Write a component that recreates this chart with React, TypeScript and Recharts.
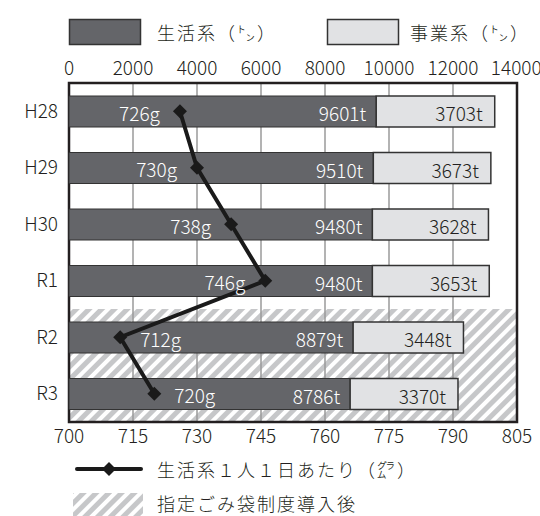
// @ts-nocheck
import React from 'react';
import { ComposedChart, Bar, Line, XAxis, YAxis, CartesianGrid, ReferenceArea, LabelList } from 'recharts';

const YEARS = ['H28', 'H29', 'H30', 'R1', 'R2', 'R3'];
const LIFE_TONS = [9601, 9510, 9480, 9480, 8879, 8786];
const BUSINESS_TONS = [3703, 3673, 3628, 3653, 3448, 3370];
const GRAMS_PER_DAY = [726, 730, 738, 746, 712, 720];
const TON_TICKS = [0, 2000, 4000, 6000, 8000, 10000, 12000, 14000];
const GRAM_TICKS = [700, 715, 730, 745, 760, 775, 790, 805];
// years after the designated garbage bag system started
const BAG_YEARS = ['R2', 'R3'];

const DARK = '#646569';
const LIGHT = '#e1e2e4';
const INK = '#231f20';
const HATCH = '#c6c7c9';
const FONT = '"Noto Sans CJK JP", "Noto Sans", sans-serif';
const WEIGHT = 300;

const chartData = YEARS.map((year, i) => ({
  year,
  life: LIFE_TONS[i],
  business: BUSINESS_TONS[i],
  grams: GRAMS_PER_DAY[i],
}));

function TonLabel({ x, y, width, height, value, fill, pad }) {
  if (!value) return null;
  return (
    <text x={x + width - pad} y={y + height / 2 + 1} textAnchor="end" dominantBaseline="central" fill={fill} fontSize={19} fontWeight={WEIGHT} fontFamily={FONT}>
      {`${value}t`}
    </text>
  );
}

function GramLabel({ x, y, value, index }) {
  const after = BAG_YEARS.includes(YEARS[index]);
  return (
    <text x={after ? x + 20 : x - 20} y={y + 1} textAnchor={after ? 'start' : 'end'} dominantBaseline="central" fill="#fff" fontSize={19} fontWeight={WEIGHT} fontFamily={FONT}>
      {`${value}g`}
    </text>
  );
}

function Diamond({ cx, cy }) {
  if (cx == null || cy == null) return null;
  const r = 7;
  return <path d={`M${cx},${cy - r}L${cx + r},${cy}L${cx},${cy + r}L${cx - r},${cy}Z`} fill="#1a1a1a" />;
}

function Legends() {
  const txt = { fontSize: 18, fontWeight: WEIGHT, fontFamily: FONT, fill: INK, dominantBaseline: 'central', letterSpacing: 2 };
  return (
    <svg width={540} height={516} style={{ position: 'absolute', left: 0, top: 0, pointerEvents: 'none' }}>
      <defs>
        <pattern id="hatchLegend" patternUnits="userSpaceOnUse" width={9} height={9} patternTransform="rotate(45)">
          <rect x={0} y={0} width={5} height={9} fill={HATCH} />
        </pattern>
      </defs>
      <rect x={69.5} y={19.5} width={71} height={25} fill={DARK} stroke="#333" strokeWidth={1.5} />
      <text x={157} y={32} {...txt}>生活系（㌧）</text>
      <rect x={327.5} y={19.5} width={71} height={25} fill={LIGHT} stroke="#333" strokeWidth={1.5} />
      <text x={410} y={32} {...txt}>事業系（㌧）</text>

      <line x1={77} y1={469} x2={141} y2={469} stroke="#1a1a1a" strokeWidth={4} strokeLinecap="round" />
      <Diamond cx={109} cy={469} />
      <text x={157} y={469} {...txt}>生活系１人１日あたり（㌘）</text>
      <rect x={73} y={493} width={70} height={23} fill="url(#hatchLegend)" />
      <text x={157} y={503} {...txt}>指定ごみ袋制度導入後</text>
    </svg>
  );
}

export default function App() {
  return (
    <div style={{ position: 'absolute', left: 0, top: 0, width: 540, height: 516, background: '#fff' }}>
      <ComposedChart
        width={540}
        height={516}
        data={chartData}
        layout="vertical"
        margin={{ top: 53, right: 23, bottom: 64, left: 0 }}
      >
        <defs>
          <pattern id="hatchPlot" patternUnits="userSpaceOnUse" width={9} height={9} patternTransform="rotate(45)">
            <rect x={0} y={0} width={5} height={9} fill={HATCH} />
          </pattern>
        </defs>
        <ReferenceArea xAxisId="top" x1={0} x2={14000} y1={BAG_YEARS[0]} y2={BAG_YEARS[BAG_YEARS.length - 1]} fill="url(#hatchPlot)" fillOpacity={1} stroke="none" zIndex={-150} />
        <CartesianGrid xAxisId="top" horizontal={false} stroke="#9a9a9a" strokeWidth={1.5} />
        <XAxis
          xAxisId="top"
          orientation="top"
          type="number"
          domain={[0, 14000]}
          ticks={TON_TICKS}
          height={30}
          axisLine={false}
          tickLine={false}
          tick={{ fontSize: 19, fontWeight: WEIGHT, fill: INK, fontFamily: FONT }}
        />
        <XAxis
          xAxisId="bottom"
          orientation="bottom"
          type="number"
          domain={[700, 805]}
          ticks={GRAM_TICKS}
          height={30}
          axisLine={false}
          tickLine={false}
          tick={{ fontSize: 19, fontWeight: WEIGHT, fill: INK, fontFamily: FONT }}
        />
        <YAxis
          dataKey="year"
          type="category"
          width={69}
          axisLine={false}
          tickLine={false}
          tickMargin={5}
          tick={{ fontSize: 19, fontWeight: WEIGHT, fill: INK, fontFamily: FONT }}
        />
        <Bar xAxisId="top" dataKey="life" stackId="t" fill={DARK} stroke="#333" strokeWidth={1} barSize={31} isAnimationActive={false}>
          <LabelList dataKey="life" content={(p) => <TonLabel {...p} fill="#fff" pad={10} />} />
        </Bar>
        <Bar xAxisId="top" dataKey="business" stackId="t" fill={LIGHT} stroke="#333" strokeWidth={1.5} barSize={31} isAnimationActive={false}>
          <LabelList dataKey="business" content={(p) => <TonLabel {...p} fill={INK} pad={12} />} />
        </Bar>
        <ReferenceArea xAxisId="top" x1={0} x2={14000} y1={YEARS[0]} y2={YEARS[YEARS.length - 1]} fill="none" stroke={INK} strokeWidth={2.5} />
        <Line
          xAxisId="bottom"
          dataKey="grams"
          type="linear"
          stroke="#1a1a1a"
          strokeWidth={4}
          dot={<Diamond />}
          activeDot={false}
          isAnimationActive={false}
        >
          <LabelList dataKey="grams" content={(p) => <GramLabel {...p} />} />
        </Line>
      </ComposedChart>
      <Legends />
    </div>
  );
}
